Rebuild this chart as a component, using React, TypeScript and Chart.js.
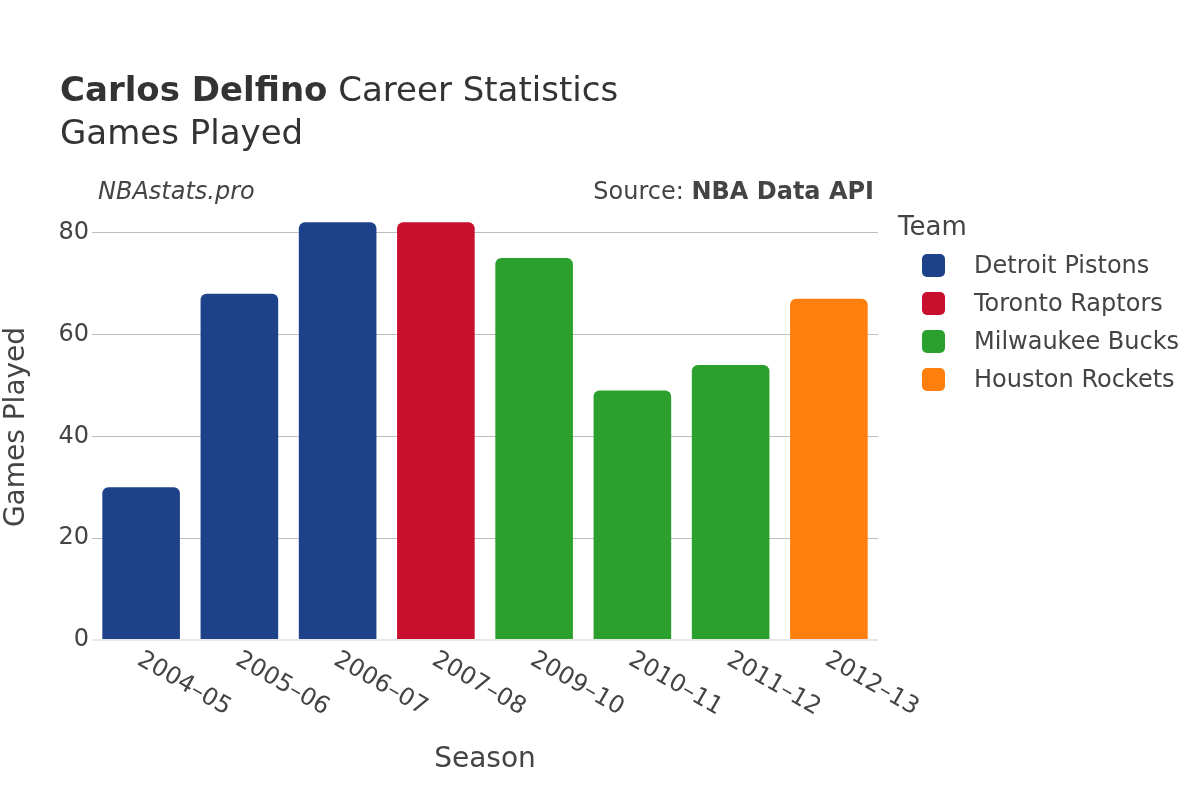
import React, { useEffect, useRef } from "react";
import { Chart, registerables } from "chart.js";

Chart.register(...registerables);

const seasons = ["2004–05", "2005–06", "2006–07", "2007–08", "2009–10", "2010–11", "2011–12", "2012–13"];
const seasonTeams = [
  "Detroit Pistons",
  "Detroit Pistons",
  "Detroit Pistons",
  "Toronto Raptors",
  "Milwaukee Bucks",
  "Milwaukee Bucks",
  "Milwaukee Bucks",
  "Houston Rockets",
];
const gamesPlayed = [30, 68, 82, 82, 75, 49, 54, 67];
const teams = ["Detroit Pistons", "Toronto Raptors", "Milwaukee Bucks", "Houston Rockets"];
const teamColors = ["#1d428a", "#c8102e", "#2ca02c", "#ff7f0e"];
const yTickValues = [0, 20, 40, 60, 80];

const FONT = "'DejaVu Sans', sans-serif";

const overlayPlugin = {
  id: "overlay",
  afterDraw(chart: any) {
    const ctx: CanvasRenderingContext2D = chart.ctx;
    const area = chart.chartArea;
    const xScale = chart.scales.x;
    ctx.save();

    // Title
    ctx.textBaseline = "alphabetic";
    ctx.textAlign = "left";
    ctx.fillStyle = "#333333";
    ctx.font = `bold 34px ${FONT}`;
    const boldPart = "Carlos Delfino";
    ctx.fillText(boldPart, 60, 101);
    const w = ctx.measureText(boldPart).width;
    ctx.font = `34px ${FONT}`;
    ctx.fillText(" Career Statistics", 60 + w, 101);
    ctx.fillText("Games Played", 60, 144);

    // Watermark & source
    ctx.fillStyle = "#444444";
    ctx.font = `italic 24px ${FONT}`;
    ctx.fillText("NBAstats.pro", 98, 199);
    ctx.font = `bold 24px ${FONT}`;
    const src = "NBA Data API";
    const srcW = ctx.measureText(src).width;
    ctx.textAlign = "right";
    ctx.fillText(src, 874, 199);
    ctx.font = `24px ${FONT}`;
    ctx.fillText("Source: ", 874 - srcW, 199);

    // X tick labels (rotated 30deg clockwise, starting at the tick)
    ctx.font = `24px ${FONT}`;
    ctx.fillStyle = "#444444";
    ctx.textAlign = "left";
    ctx.textBaseline = "middle";
    seasons.forEach((s, i) => {
      const x = xScale.getPixelForValue(i);
      ctx.save();
      ctx.translate(x - 2, area.bottom + 18);
      ctx.rotate(Math.PI / 6);
      ctx.fillText(s, 0, 0);
      ctx.restore();
    });

    // Axis titles
    ctx.font = `28px ${FONT}`;
    ctx.textAlign = "center";
    ctx.textBaseline = "middle";
    ctx.fillText("Season", (area.left + area.right) / 2, 760);
    ctx.save();
    ctx.translate(17, 427);
    ctx.rotate(-Math.PI / 2);
    ctx.fillText("Games Played", 0, 0);
    ctx.restore();

    // Legend
    ctx.textAlign = "left";
    ctx.textBaseline = "alphabetic";
    ctx.font = `26px ${FONT}`;
    ctx.fillText("Team", 898, 235);
    ctx.font = `24px ${FONT}`;
    ctx.textBaseline = "middle";
    chart.data.datasets.forEach((ds: any, i: number) => {
      const cy = 265.5 + i * 38;
      ctx.fillStyle = ds.backgroundColor;
      ctx.beginPath();
      (ctx as any).roundRect(922, cy - 11.5, 23, 23, 5);
      ctx.fill();
      ctx.fillStyle = "#444444";
      ctx.fillText(ds.label, 974, cy + 1);
    });

    ctx.restore();
  },
};

export default function App() {
  const canvasRef = useRef<HTMLCanvasElement | null>(null);

  useEffect(() => {
    if (!canvasRef.current) return;
    const datasets = teams.map((team, ti) => ({
      label: team,
      data: seasons.map((_, i) => (seasonTeams[i] === team ? gamesPlayed[i] : null)),
      backgroundColor: teamColors[ti],
      borderWidth: 0,
      borderRadius: 6,
      borderSkipped: "start" as const,
      skipNull: true,
      barPercentage: 0.79,
      categoryPercentage: 1.0,
    }));

    const chart = new Chart(canvasRef.current, {
      type: "bar",
      data: { labels: seasons, datasets },
      options: {
        responsive: false,
        animation: false,
        layout: { padding: { left: 0, right: 322, top: 202, bottom: 0 } },
        plugins: {
          legend: { display: false },
          tooltip: { enabled: false },
          title: { display: false },
        },
        scales: {
          x: {
            grid: { display: false },
            border: { display: false },
            ticks: { display: false },
            afterFit: (s: any) => {
              s.height = 160;
            },
          },
          y: {
            min: 0,
            max: 86,
            afterBuildTicks: (s: any) => {
              s.ticks = yTickValues.map((v) => ({ value: v }));
            },
            grid: {
              color: (c: any) => (c.tick && c.tick.value === 0 ? "#e8e8e8" : "#bdbdbd"),
              lineWidth: (c: any) => (c.tick && c.tick.value === 0 ? 2 : 1),
              drawTicks: false,
            },
            border: { display: false },
            ticks: {
              padding: 3,
              color: "#444444",
              font: { family: "'DejaVu Sans', sans-serif", size: 24 },
            },
            afterFit: (s: any) => {
              s.width = 92;
            },
          },
        },
      } as any,
      plugins: [overlayPlugin],
    });
    return () => chart.destroy();
  }, []);

  return (
    <div style={{ position: "absolute", left: 0, top: 0, width: 1200, height: 800, background: "#ffffff" }}>
      <canvas ref={canvasRef} width={1200} height={800} style={{ width: 1200, height: 800 }} />
    </div>
  );
}
